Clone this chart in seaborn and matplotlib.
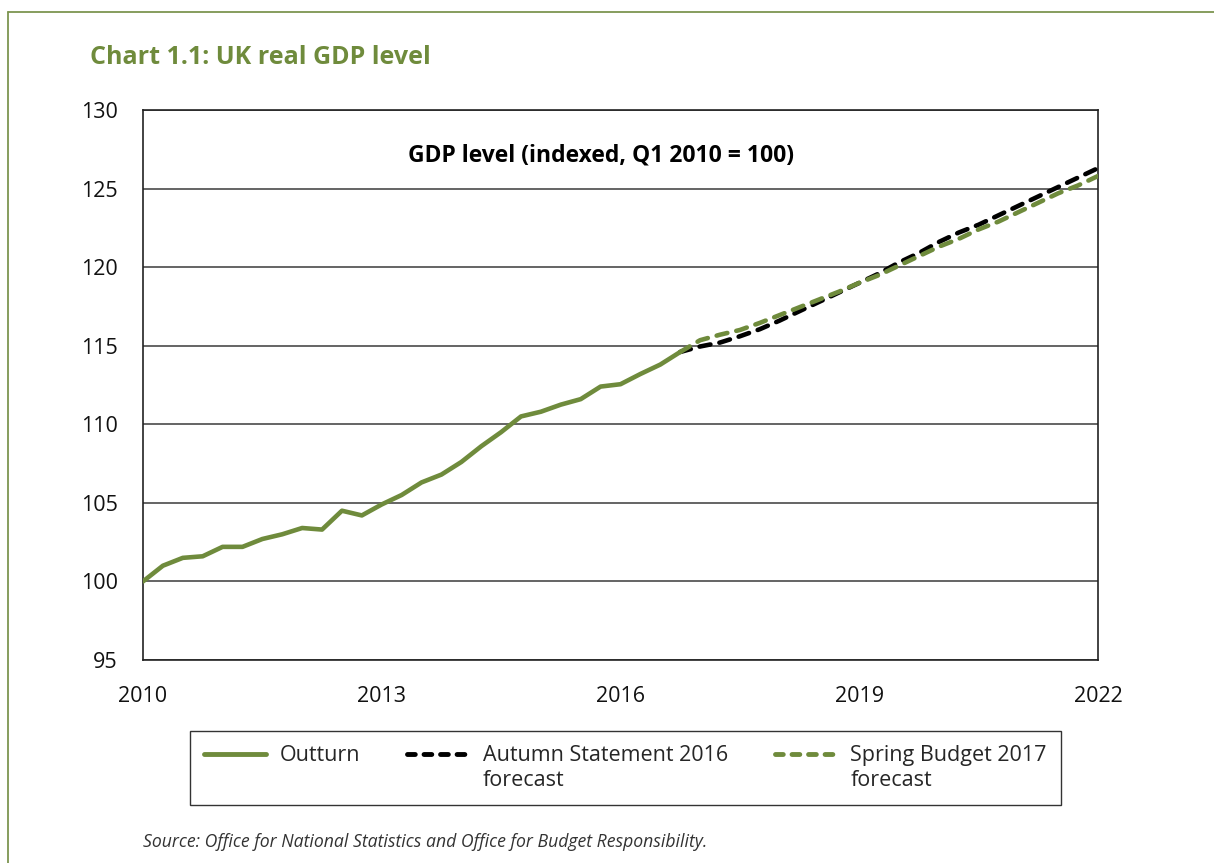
import numpy as np
import pandas as pd
from matplotlib import pyplot as plt
from matplotlib.lines import Line2D
import seaborn as sns

# quarterly GDP level, indexed Q1 2010 = 100
outturn_quarters = [f"{y}Q{q}" for y in range(2010, 2017) for q in range(1, 5)]
outturn = [100.0, 101.0, 101.5, 101.6, 102.2, 102.2, 102.7, 103.0,
           103.4, 103.3, 104.5, 104.2, 104.9, 105.5, 106.3, 106.8,
           107.6, 108.6, 109.5, 110.5, 110.8, 111.25, 111.6, 112.4,
           112.55, 113.2, 113.8, 114.6]

forecast_quarters = ["2016Q4"] + [f"{y}Q{q}" for y in range(2017, 2022) for q in range(1, 5)] + ["2022Q1"]
autumn_2016 = [114.6, 114.95, 115.2, 115.6, 116.05, 116.6, 117.2, 117.8,
               118.4, 119.0, 119.6, 120.3, 120.9, 121.6, 122.2, 122.7,
               123.3, 123.9, 124.5, 125.1, 125.7, 126.3]
spring_2017 = [114.6, 115.35, 115.7, 116.0, 116.45, 116.95, 117.45, 117.95,
               118.45, 119.0, 119.5, 120.1, 120.7, 121.3, 121.8, 122.4,
               122.9, 123.5, 124.1, 124.7, 125.2, 125.8]

year_ticks = [2010, 2013, 2016, 2019, 2022]
y_ticks = [95, 100, 105, 110, 115, 120, 125, 130]


def to_year(labels):
    '''turn "2010Q1" style labels into decimal years'''
    return [int(s[:4]) + (int(s[-1]) - 1) / 4 for s in labels]


df_out = pd.DataFrame({'year': to_year(outturn_quarters), 'gdp': outturn})
df_as = pd.DataFrame({'year': to_year(forecast_quarters), 'gdp': autumn_2016})
df_sb = pd.DataFrame({'year': to_year(forecast_quarters), 'gdp': spring_2017})

sns.set_style("white")
plt.rcParams['font.family'] = ['Open Sans', 'DejaVu Sans']

green = '#6f8b3c'
dash = (0, (2.4, 2.0))

fig = plt.figure(figsize=(12.14, 8.63), dpi=100)
ax = fig.add_axes([143 / 1214, 1 - 660 / 863, 955 / 1214, 550 / 863])

sns.lineplot(data=df_as, x='year', y='gdp', ax=ax, color='black', lw=3.3,
             linestyle=dash, dash_capstyle='round', zorder=3)
sns.lineplot(data=df_sb, x='year', y='gdp', ax=ax, color=green, lw=3.3,
             linestyle=dash, dash_capstyle='round', zorder=4)
sns.lineplot(data=df_out, x='year', y='gdp', ax=ax, color=green, lw=3.3,
             solid_capstyle='round', zorder=5)

ax.set_xlim(2010, 2022)
ax.set_ylim(95, 130)
ax.set_xticks(year_ticks)
ax.set_yticks(y_ticks)
ax.set_xlabel("")
ax.set_ylabel("")
ax.grid(axis='y', color='#4a4a4a', lw=1.2)
ax.grid(axis='x', visible=False)
for s in ax.spines.values():
    s.set_color('#222222')
    s.set_linewidth(1.2)
ax.tick_params(axis='both', direction='out', length=10, width=1.1,
               color='#222222', labelsize=15.5, labelcolor='#111111')
ax.tick_params(axis='x', pad=9)
ax.tick_params(axis='y', pad=8)

ax.text(0.48, 0.918, "GDP level (indexed, Q1 2010 = 100)", transform=ax.transAxes,
        ha='center', va='center', fontsize=16.5, fontweight='bold', color='black')

legend_dash = (0, (1.6, 1.8))
handles = [Line2D([], [], color=green, lw=3.5, solid_capstyle='round'),
           Line2D([], [], color='black', lw=3.5, linestyle=legend_dash, dash_capstyle='round'),
           Line2D([], [], color=green, lw=3.5, linestyle=legend_dash, dash_capstyle='round')]
labels = ["Outturn", "Autumn Statement 2016\nforecast", "Spring Budget 2017\nforecast"]
leg = fig.legend(handles, labels, loc='center', ncol=3,
                 bbox_to_anchor=(625.5 / 1214, 1 - 768 / 863),
                 fontsize=15.5, frameon=True, fancybox=False, edgecolor='black',
                 handlelength=2.9, handleheight=1.15, handletextpad=0.6,
                 columnspacing=2.2, borderpad=0.65, labelspacing=0.2)
leg.get_frame().set_linewidth(1.0)
for t in leg.get_texts():
    t.set_linespacing(1.3)
# put the line sample next to the first text line and line the columns up at the top
leg._legend_handle_box.align = 'top'
for col in leg._legend_handle_box.get_children():
    col.align = 'left'
    for item in col.get_children():
        item.align = 'top'

fig.text(90 / 1214, 1 - 58 / 863, "Chart 1.1: UK real GDP level", ha='left', va='center',
         fontsize=18, fontweight='bold', color=green)
fig.text(143 / 1214, 1 - 842 / 863,
         "Source: Office for National Statistics and Office for Budget Responsibility.",
         ha='left', va='center', fontsize=12.7, style='italic', color='#333333')

border = '#7d9550'
fig.add_artist(Line2D([8 / 1214, 1], [1 - 12 / 863, 1 - 12 / 863], color=border, lw=1.3))
fig.add_artist(Line2D([8 / 1214, 8 / 1214], [0, 1 - 12 / 863], color=border, lw=1.3))

fig.savefig('out.png', dpi=100)
